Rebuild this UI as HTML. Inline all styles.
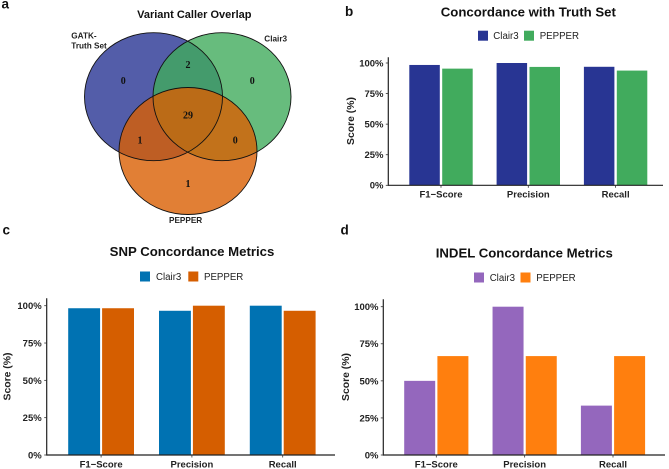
<!DOCTYPE html>
<html lang="en">
<head>
<meta charset="utf-8">
<title>Variant caller comparison</title>
<style>
html,body{margin:0;padding:0;background:#fff;}
svg{display:block;font-family:"Liberation Sans",sans-serif;}
</style>
</head>
<body>
<svg id="fig" xmlns="http://www.w3.org/2000/svg" width="669" height="469" viewBox="0 0 669 469">
  <rect width="669" height="469" fill="#fff"/>
  <g font-weight="700" font-size="13.5" fill="#111">
    <text x="1.5" y="8.5">a</text>
    <text x="345" y="16">b</text>
    <text x="2.5" y="234.5">c</text>
    <text x="340.5" y="234.5">d</text>
  </g>
  <g>
    <text x="194.3" y="17.8" text-anchor="middle" font-weight="700" font-size="11" fill="#111">Variant Caller Overlap</text>
    <g stroke="none">
      <ellipse cx="153.5" cy="96.7" rx="69" ry="64" fill="#283593" fill-opacity="0.8"/>
      <ellipse cx="222" cy="96.7" rx="69" ry="64" fill="#41AB5D" fill-opacity="0.8"/>
      <ellipse cx="188" cy="151" rx="69" ry="63.5" fill="#D95F02" fill-opacity="0.8"/>
    </g>
    <g fill="none" stroke="#111" stroke-width="0.9">
      <ellipse cx="153.5" cy="96.7" rx="69" ry="64"/>
      <ellipse cx="222" cy="96.7" rx="69" ry="64"/>
      <ellipse cx="188" cy="151" rx="69" ry="63.5"/>
    </g>
    <g font-family="'Liberation Serif',serif" font-weight="700" font-size="10" fill="#111" text-anchor="middle">
      <text x="123.3" y="84">0</text>
      <text x="188" y="68">2</text>
      <text x="252.3" y="84">0</text>
      <text x="188" y="118.5">29</text>
      <text x="140" y="143.5">1</text>
      <text x="235.3" y="143.5">0</text>
      <text x="188" y="187">1</text>
    </g>
    <g font-size="8.2" font-weight="700" fill="#222">
      <text x="71.3" y="38.3">GATK-</text>
      <text x="71.3" y="48.6">Truth Set</text>
      <text x="264.3" y="41.6">Clair3</text>
      <text x="169" y="222.8">PEPPER</text>
    </g>
  </g>
</svg>
<script>
// Shared chart data
const categories = ["F1\u2212Score", "Precision", "Recall"];
const seriesNames = ["Clair3", "PEPPER"];
const tickValues = [0, 25, 50, 75, 100];
const tickLabels = ["0%", "25%", "50%", "75%", "100%"];

// Panel b
const truthClair3 = [98.4, 100, 96.9];
const truthPepper = [95.4, 96.8, 93.8];
// Panel c
const snpClair3 = [98.3, 96.6, 100];
const snpPepper = [98.3, 100, 96.6];
// Panel d
const indelClair3 = [50, 100, 33.3];
const indelPepper = [66.7, 66.7, 66.7];

const NS = "http://www.w3.org/2000/svg";
const fig = document.getElementById("fig");

function el(parent, tag, attrs, text) {
  const node = document.createElementNS(NS, tag);
  for (const k in attrs) node.setAttribute(k, attrs[k]);
  if (text !== undefined) node.textContent = text;
  parent.appendChild(node);
  return node;
}

function drawChart(cfg) {
  const g = el(fig, "g", {});
  
  

  const yScale = v => cfg.y0 - (v / 100) * (cfg.y0 - cfg.y100);
  const xCenter = i => cfg.c0 + i * cfg.step;

  const title = el(g, "text", {x: cfg.titleX, y: cfg.titleY, "text-anchor": "middle", "font-weight": 700, "font-size": 13.2, fill: "#111"}, cfg.title);
  
  

  // Legend
  const swatchA = el(g, "rect", {x: cfg.legend.s1, y: cfg.legend.top, width: 10, height: 10, fill: cfg.colors[0]});
  
  
  const labelA = el(g, "text", {x: cfg.legend.t1, y: cfg.legend.base, "font-size": 9.7, fill: "#222"}, seriesNames[0]);
  
  
  const swatchB = el(g, "rect", {x: cfg.legend.s2, y: cfg.legend.top, width: 10, height: 10, fill: cfg.colors[1]});
  
  
  const labelB = el(g, "text", {x: cfg.legend.t2, y: cfg.legend.base, "font-size": 9.7, fill: "#222"}, seriesNames[1]);
  
  

  // Bars
  const bw = cfg.barW, gap = cfg.gap;
  categories.forEach((c, i) => {
    const cx = xCenter(i);
    [cfg.a, cfg.b].forEach((vals, s) => {
      const x = s === 0 ? cx - gap / 2 - bw : cx + gap / 2;
      const y = yScale(vals[i]);
      const bar = el(g, "rect", {x: x, y: y, width: bw, height: cfg.y0 - y, fill: cfg.colors[s]});
      
      
    });
  });

  // Axes
  const yAxis = el(g, "line", {x1: cfg.ax, x2: cfg.ax, y1: cfg.axTop, y2: cfg.y0 + 0.6, stroke: "#222", "stroke-width": 1.2});
  
  
  const xAxis = el(g, "line", {x1: cfg.ax, x2: cfg.axRight, y1: cfg.y0, y2: cfg.y0, stroke: "#222", "stroke-width": 1.2});
  
  

  tickValues.forEach((v, i) => {
    const y = yScale(v);
    const tick = el(g, "line", {x1: cfg.ax - 2.5, x2: cfg.ax, y1: y, y2: y, stroke: "#333", "stroke-width": 0.8});
    
    
    const lab = el(g, "text", {x: cfg.tickX, y: y + 3.4, "text-anchor": "end", "font-weight": 700, "font-size": 9.5, fill: "#222"}, tickLabels[i]);
    
    
  });

  categories.forEach((c, i) => {
    const x = xCenter(i);
    const tick = el(g, "line", {x1: x, x2: x, y1: cfg.y0, y2: cfg.y0 + 2.5, stroke: "#333", "stroke-width": 0.8});
    
    
    const lab = el(g, "text", {x: x, y: cfg.catY, "text-anchor": "middle", "font-weight": 700, "font-size": 9.5, fill: "#222"}, c);
    
    
  });

  const yTitle = el(g, "text", {transform: "translate(" + cfg.yTitleX + "," + cfg.yTitleY + ") rotate(-90)", "text-anchor": "middle", "font-weight": 700, "font-size": 10.4, fill: "#222"}, "Score (%)");
  
  
}

drawChart({key: "truth", title: "Concordance with Truth Set", a: truthClair3, b: truthPepper,
  colors: ["#283593", "#41AB5D"], titleX: 528.3, titleY: 16.6,
  legend: {s1: 478, s2: 524, t1: 493.3, t2: 539.7, top: 30.7, base: 39},
  ax: 388.3, axTop: 57.3, axRight: 663, y0: 185.3, y100: 63, c0: 441, step: 87.3, barW: 30.5, gap: 2.4,
  tickX: 383.5, catY: 197.5, yTitleX: 354, yTitleY: 121});

drawChart({key: "snp", title: "SNP Concordance Metrics", a: snpClair3, b: snpPepper,
  colors: ["#0072B2", "#D55E00"], titleX: 192, titleY: 256,
  legend: {s1: 140, s2: 188.3, t1: 156, t2: 204, top: 271.5, base: 280},
  ax: 46.7, axTop: 298.3, axRight: 335, y0: 455, y100: 305.7, c0: 101.1, step: 90.8, barW: 31.9, gap: 2,
  tickX: 41.7, catY: 467.5, yTitleX: 10.7, yTitleY: 376.5});

drawChart({key: "indel", title: "INDEL Concordance Metrics", a: indelClair3, b: indelPepper,
  colors: ["#9467BD", "#FF7F0E"], titleX: 524.3, titleY: 257.6,
  legend: {s1: 474, s2: 520.5, t1: 489.7, t2: 536.3, top: 272.5, base: 281},
  ax: 383.3, axTop: 299.3, axRight: 665, y0: 455, y100: 306.7, c0: 436.3, step: 88.35, barW: 31, gap: 2.2,
  tickX: 378.5, catY: 467.5, yTitleX: 349, yTitleY: 377});
</script>
</body>
</html>
